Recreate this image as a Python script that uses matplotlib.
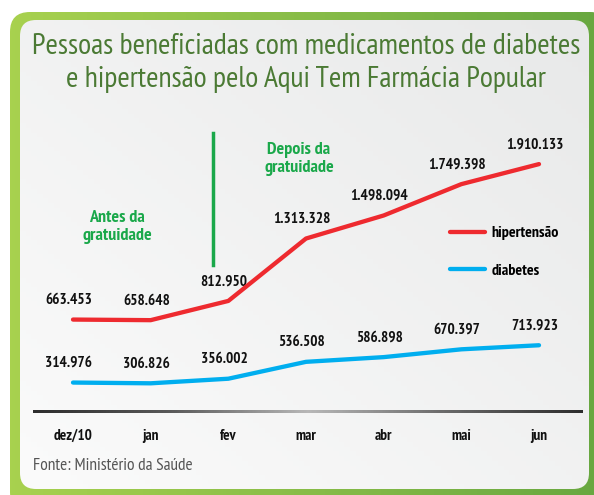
import numpy as np
import matplotlib.pyplot as plt
from matplotlib.patches import FancyBboxPatch
from matplotlib.colors import LinearSegmentedColormap
import matplotlib.transforms as mtransforms

plt.rcParams['font.family'] = ['PT Sans Narrow', 'DejaVu Sans']

# dados
meses = ['dez/10', 'jan', 'fev', 'mar', 'abr', 'mai', 'jun']
hipertensao = [663453, 658648, 812950, 1313328, 1498094, 1749398, 1910133]
diabetes = [314976, 306826, 356002, 536508, 586898, 670397, 713923]
titulo = 'Pessoas beneficiadas com medicamentos de diabetes\ne hipertensão pelo Aqui Tem Farmácia Popular'
fonte = 'Fonte: Ministério da Saúde'

def fmt(v):
    return '{:,}'.format(v).replace(',', '.')

W, H = 594, 495
fig = plt.figure(figsize=(W / 100, H / 100), dpi=100)

# fundo: moldura verde + painel cinza
bg = fig.add_axes([0, 0, 1, 1])
bg.set_xlim(0, W)
bg.set_ylim(H, 0)
bg.axis('off')

outer = FancyBboxPatch((10, 12), 600, 500, boxstyle='round,pad=0,rounding_size=20',
                       fc='none', ec='none')
bg.add_patch(outer)
gcmap = LinearSegmentedColormap.from_list('g', ['#a9d24f', '#66a640'])
im = bg.imshow(np.linspace(0, 1, 200)[None, :], cmap=gcmap, extent=(0, 620, 520, 0),
               aspect='auto', zorder=1)
im.set_clip_path(outer)

inner = FancyBboxPatch((20, 20), 569, 469, boxstyle='round,pad=0,rounding_size=16',
                       fc='none', ec='none')
bg.add_patch(inner)
xx, yy = np.meshgrid(np.linspace(0, 1, 100), np.linspace(0, 1, 100))
grad = (xx + (1 - yy)) / 2
pcmap = LinearSegmentedColormap.from_list('p', ['#fbfbfb', '#e8e9e9'])
im2 = bg.imshow(grad, cmap=pcmap, extent=(20, 589, 489, 20), aspect='auto', zorder=2)
im2.set_clip_path(inner)

# linha base com degradê (escuro nas pontas, claro no meio)
lcmap = LinearSegmentedColormap.from_list('l', ['#2e2e2e', '#5a5a5a', '#b8b8b8',
                                                '#6a6a6a', '#2e2e2e'])
bg.imshow(np.linspace(0, 1, 300)[None, :], cmap=lcmap, extent=(33, 583, 413.3, 410.7),
          aspect='auto', zorder=3, interpolation='bilinear')
bg.set_xlim(0, W)
bg.set_ylim(H, 0)

bg.text(306, 63, titulo, ha='center', va='center', fontsize=21.5, color='#4b7a34',
        linespacing=1.25, zorder=4)
bg.text(33, 466, fonte, ha='left', va='center', fontsize=12.5, color='#555555', zorder=4)

# eixos principais
ax = fig.add_axes([35 / W, (H - 412) / H, 545 / W, 282 / H])
ax.set_facecolor('none')
ax2 = ax.twinx()
x = np.arange(len(meses))
ax.set_xlim(-(73 - 35) / 77.67, 6 + (580 - 539) / 77.67)
ax.set_ylim(-77800, 2183600)
ax2.set_ylim(0, 3016000)

l1, = ax.plot(x, hipertensao, color='#ee2a2f', lw=3.1, solid_capstyle='round', zorder=5)
l2, = ax2.plot(x, diabetes, color='#00aeef', lw=3.1, solid_capstyle='round', zorder=5)

for xi, v in zip(x, hipertensao):
    ax.annotate(fmt(v), (xi, v), xytext=(-3, 14), textcoords='offset points',
                ha='center', va='center', fontsize=11, fontweight='bold', color='#111111')
for xi, v in zip(x, diabetes):
    ax2.annotate(fmt(v), (xi, v), xytext=(-3, 14), textcoords='offset points',
                 ha='center', va='center', fontsize=11, fontweight='bold', color='#111111')

for a in (ax, ax2):
    for s in a.spines.values():
        s.set_visible(False)
    a.set_yticks([])
ax.set_xticks(x)
ax.set_xticklabels(meses, fontsize=11, fontweight='bold', color='#111111')
ax.tick_params(axis='x', length=0, pad=12)

# separador antes / depois
ax.axvline(1.8, ymin=0.521, ymax=0.989, color='#1aa84a', lw=2.5)
tr = mtransforms.blended_transform_factory(ax.transData, ax.transAxes)
ax.text(0.57, 0.655, 'Antes da\ngratuidade', transform=tr, ha='center', va='center',
        fontsize=13, fontweight='bold', color='#1aa84a', linespacing=1.2)
ax.text(2.91, 0.898, 'Depois da\ngratuidade', transform=tr, ha='center', va='center',
        fontsize=13, fontweight='bold', color='#1aa84a', linespacing=1.2)

fig.legend([l1, l2], ['hipertensão', 'diabetes'], loc='upper left',
           bbox_to_anchor=(450 / W, 1 - 226 / H), frameon=False, borderpad=0,
           borderaxespad=0, handlelength=2.2, handletextpad=0.4, labelspacing=1.45,
           prop={'weight': 'bold', 'size': 11.5})

fig.savefig('out.png', dpi=100)
